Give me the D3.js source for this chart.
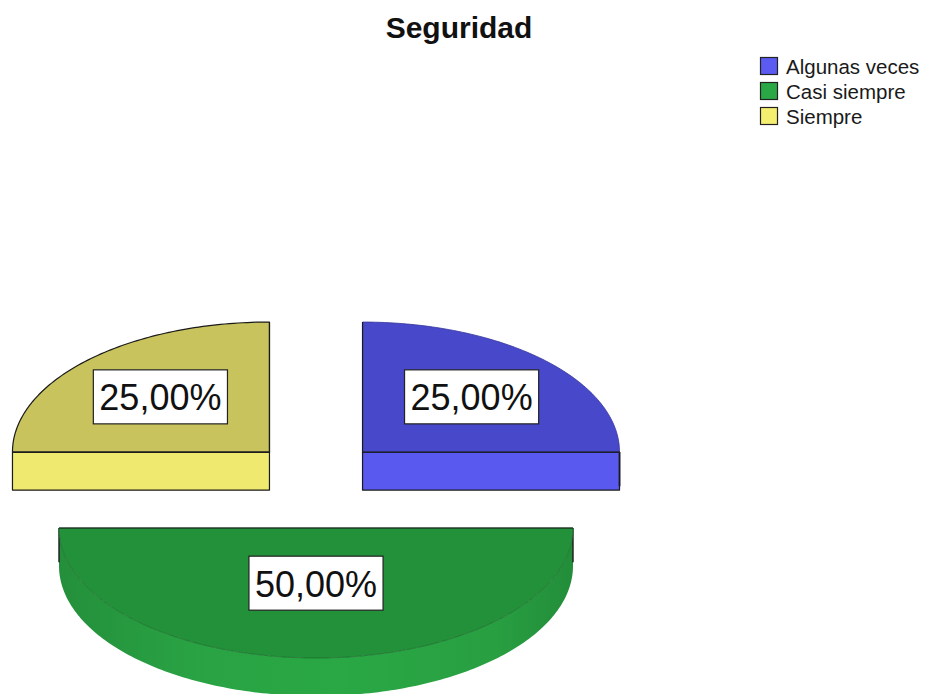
<!DOCTYPE html>
<html>
<head>
<meta charset="utf-8">
<script src="https://cdn.jsdelivr.net/npm/d3@7"></script>
<style>
  html, body { margin: 0; padding: 0; background: #fff; }
  svg { display: block; }
  text { font-family: "Liberation Sans", Arial, sans-serif; }
</style>
</head>
<body>
<svg id="chart" width="925" height="694"></svg>
<script>
// Response categories and their share of answers (%)
const categories = ["Algunas veces", "Casi siempre", "Siempre"];
const percentages = [25, 50, 25];
const valueLabels = ["25,00%", "50,00%", "25,00%"];

const topColors = ["#4848cb", "#23913a", "#c9c35d"];
const sideColors = ["#5959f0", "#2aa845", "#f0e96f"];
const legendColors = ["#5b5bf2", "#2aa845", "#f5ef70"];

const W = 925, H = 694;
const svg = d3.select("#chart");

// Tilted pie geometry
const cx = 316, cy = 483.5;   // pie centre on screen
const rx = 257, ry = 130;     // ellipse radii of the top face
const depth = 38;             // thickness of the pie
const explodeX = 65.8, explodeY = 44.5;

const color = d3.scaleOrdinal().domain(categories).range(topColors);
const side = d3.scaleOrdinal().domain(categories).range(sideColors);
const legendColor = d3.scaleOrdinal().domain(categories).range(legendColors);

const data = categories.map((c, i) => ({ name: c, value: percentages[i], label: valueLabels[i] }));
const arcs = d3.pie().sort(null).value(d => d.value)(data);

// angle measured clockwise from 12 o'clock, as d3.pie does
const proj = (ox, oy, a, dy = 0) => [ox + rx * Math.sin(a), oy - ry * Math.cos(a) + dy];

function arcPoints(ox, oy, a0, a1, dy = 0) {
  const n = Math.max(2, Math.ceil((a1 - a0) / (Math.PI / 180)));
  return d3.range(n + 1).map(k => proj(ox, oy, a0 + (a1 - a0) * k / n, dy));
}

const line = d3.line();

// Side gradients (lighter towards the middle of the rim)
const defs = svg.append("defs");
arcs.forEach((a, i) => {
  const g = defs.append("linearGradient")
    .attr("id", "rim" + i).attr("x1", "0%").attr("x2", "100%").attr("y1", "0%").attr("y2", "0%");
  const base = d3.color(side(a.data.name));
  g.append("stop").attr("offset", "0%").attr("stop-color", base.darker(0.45));
  g.append("stop").attr("offset", "25%").attr("stop-color", base.darker(0.1));
  g.append("stop").attr("offset", "55%").attr("stop-color", base);
  g.append("stop").attr("offset", "85%").attr("stop-color", base.darker(0.15));
  g.append("stop").attr("offset", "100%").attr("stop-color", base.darker(0.5));
});

// Order slices from back to front (by vertical position of their centre)
const slices = arcs.map((a, i) => {
  const mid = (a.startAngle + a.endAngle) / 2;
  return { a, i, ox: cx + explodeX * Math.sin(mid), oy: cy - explodeY * Math.cos(mid), mid };
}).sort((p, q) => p.oy - q.oy);

const pieG = svg.append("g");

slices.forEach(s => {
  const { a, i, ox, oy } = s;
  const g = pieG.append("g");
  const name = a.data.name;
  const a0 = a.startAngle, a1 = a.endAngle;

  // Radial cut faces that point towards the viewer
  [[a0, a0 - Math.PI / 2], [a1, a1 + Math.PI / 2]].forEach(([ang, normal]) => {
    if (Math.cos(normal) < -1e-6) {
      const p = proj(ox, oy, ang);
      const pts = [[ox, oy], p, [p[0], p[1] + depth], [ox, oy + depth]];
      g.append("path")
        .attr("d", line(pts) + "Z")
        .attr("fill", side(name))
        .attr("stroke", "#1a1a1a").attr("stroke-width", 1.2)
        .attr("stroke-linejoin", "round");
    }
  });

  // Curved outer rim, front half only
  const f0 = Math.max(a0, Math.PI / 2), f1 = Math.min(a1, 3 * Math.PI / 2);
  if (f1 > f0) {
    const topRim = arcPoints(ox, oy, f0, f1);
    const botRim = arcPoints(ox, oy, f0, f1, depth).reverse();
    g.append("path")
      .attr("d", line(topRim.concat(botRim)) + "Z")
      .attr("fill", `url(#rim${i})`)
      .attr("stroke", "none");
    // silhouette edges at the rim ends
    [f0, f1].forEach(ang => {
      const p = proj(ox, oy, ang);
      g.append("line")
        .attr("x1", p[0]).attr("y1", p[1]).attr("x2", p[0]).attr("y2", p[1] + depth * 0.9)
        .attr("stroke", "#1a1a1a").attr("stroke-width", 1.4);
    });
  }

  // Top face
  const rimTop = arcPoints(ox, oy, a0, a1);
  const frontFacing = f1 > f0;
  g.append("path")
    .attr("d", line([[ox, oy]].concat(rimTop)) + "Z")
    .attr("fill", color(name))
    .attr("stroke", frontFacing ? d3.color(color(name)).darker(0.8) : "#1a1a1a")
    .attr("stroke-width", frontFacing ? 0.8 : 1.2)
    .attr("stroke-linejoin", "round");
  // straight edges of the top face
  g.append("path")
    .attr("d", line([proj(ox, oy, a0), [ox, oy], proj(ox, oy, a1)]))
    .attr("fill", "none")
    .attr("stroke", "#1a1a1a").attr("stroke-width", 1.2);

  // Value label at the centroid of the top face
  const alpha = a1 - a0;
  const dist = 4 * Math.sin(alpha / 2) / (3 * alpha);
  const lx = ox + rx * dist * Math.sin(s.mid);
  const ly = oy - ry * dist * Math.cos(s.mid);
  const lg = g.append("g").attr("transform", `translate(${lx},${ly})`);
  const txt = lg.append("text")
    .attr("text-anchor", "middle")
    .attr("dominant-baseline", "central")
    .attr("y", 1)
    .attr("font-size", 36)
    .attr("fill", "#111")
    .text(a.data.label);
  const bb = txt.node().getBBox();
  lg.insert("rect", "text")
    .attr("x", -bb.width / 2 - 6).attr("y", -27)
    .attr("width", bb.width + 12).attr("height", 54)
    .attr("fill", "#fff")
    .attr("stroke", "#222").attr("stroke-width", 1.2);
});

// Title
svg.append("text")
  .attr("x", 459).attr("y", 38)
  .attr("text-anchor", "middle")
  .attr("font-size", 30).attr("font-weight", "bold")
  .attr("fill", "#111")
  .text("Seguridad");

// Legend
const legend = svg.append("g").attr("transform", "translate(760,57)");
const items = legend.selectAll("g").data(categories).join("g")
  .attr("transform", (d, i) => `translate(0,${i * 25})`);
items.append("rect")
  .attr("x", 0.5).attr("y", 0.5).attr("width", 17).attr("height", 17)
  .attr("fill", d => legendColor(d))
  .attr("stroke", "#222").attr("stroke-width", 1.2);
items.append("text")
  .attr("x", 26).attr("y", 16.5)
  .attr("font-size", 20.5)
  .attr("fill", "#1a1a1a")
  .text(d => d);
</script>
</body>
</html>
